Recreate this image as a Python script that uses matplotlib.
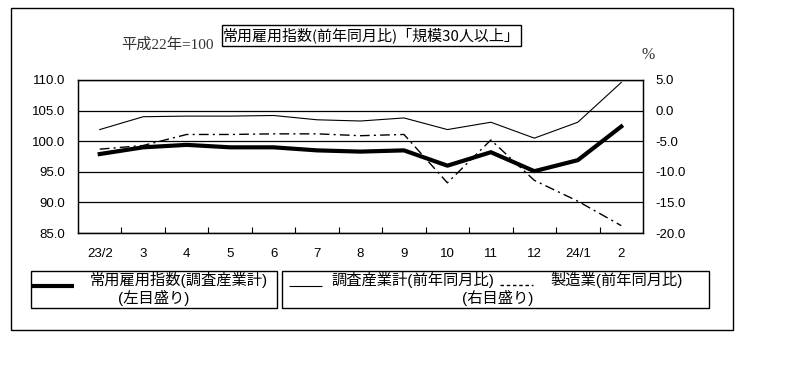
import matplotlib
matplotlib.use('Agg')
import matplotlib.pyplot as plt
from matplotlib.patches import Rectangle
from matplotlib.lines import Line2D
from matplotlib.ticker import FormatStrFormatter

plt.rcParams['font.family'] = ['Liberation Sans', 'Noto Sans CJK JP']

# データ
months = ['23/2', '3', '4', '5', '6', '7', '8', '9', '10', '11', '12', '24/1', '2']
index_all = [97.9, 99.0, 99.4, 99.0, 99.0, 98.5, 98.3, 98.5, 96.0, 98.2, 95.1, 96.9, 102.4]   # 左目盛り
yoy_all = [-3.1, -1.0, -0.9, -0.9, -0.8, -1.5, -1.7, -1.2, -3.1, -1.9, -4.5, -1.9, 4.6]      # 右目盛り
yoy_mfg = [-6.3, -5.7, -3.9, -3.9, -3.8, -3.8, -4.1, -3.9, -11.8, -4.8, -11.4, -14.8, -18.8]  # 右目盛り
left_ticks = [85.0, 90.0, 95.0, 100.0, 105.0, 110.0]
right_ticks = [-20.0, -15.0, -10.0, -5.0, 0.0, 5.0]

W, H = 805, 366
fig = plt.figure(figsize=(W / 100, H / 100), dpi=100)


def fx(x):
    return x / W


def fy(y):
    return 1 - y / H


def box(x0, y0, x1, y1, lw=1.0):
    fig.patches.append(Rectangle((fx(x0), fy(y1)), fx(x1 - x0), (y1 - y0) / H,
                                 transform=fig.transFigure, fill=False,
                                 ec='black', lw=lw))


# 外枠
box(11, 8, 733, 330)

ax = fig.add_axes([fx(78), fy(233), fx(565), 153 / H])
x = list(range(len(months)))
ax.plot(x, index_all, color='black', lw=3.0, solid_joinstyle='round', zorder=5)
ax.set_xlim(-0.5, len(months) - 0.5)
ax.set_ylim(85, 110)
ax.set_yticks(left_ticks)
ax.yaxis.set_major_formatter(FormatStrFormatter('%.1f'))
ax.grid(axis='y', color='black', lw=0.9)
ax.set_xticks(x)
ax.set_xticklabels(months)
ax.set_xticks([i + 0.5 for i in range(len(months) - 1)], minor=True)
ax.tick_params(axis='x', which='major', length=0, pad=11, labelsize=9.5)
ax.tick_params(axis='x', which='minor', direction='in', length=4, width=0.8)
ax.tick_params(axis='y', length=0, pad=9, labelsize=9.5)
for s in ax.spines.values():
    s.set_linewidth(0.9)

ax2 = ax.twinx()
ax2.plot(x, yoy_all, color='black', lw=0.8)
ax2.plot(x, yoy_mfg, color='black', lw=1.0, dashes=(7, 3, 1.5, 3))
ax2.set_ylim(-20, 5)
ax2.set_yticks(right_ticks)
ax2.yaxis.set_major_formatter(FormatStrFormatter('%.1f'))
ax2.tick_params(axis='y', length=0, pad=9, labelsize=9.5)
for s in ax2.spines.values():
    s.set_linewidth(0.9)

# タイトル
box(222, 25, 521, 46)
fig.text(fx(371.5), fy(35.5), '常用雇用指数(前年同月比)「規模30人以上」',
         ha='center', va='center', fontsize=10.8, family=['Noto Sans CJK JP'])
fig.text(fx(167), fy(45), '平成22年=100', ha='center', va='center', fontsize=11,
         family=['Liberation Serif', 'Noto Sans CJK JP'], color='#333333')
fig.text(fx(648), fy(55), '%', ha='center', va='center', fontsize=11.5,
         family=['Liberation Serif'], color='#333333')

# 凡例
box(31, 271, 277, 308)
box(282, 271, 709, 308)
fig.add_artist(Line2D([fx(31), fx(74)], [fy(286), fy(286)], color='black', lw=3.0,
                      solid_capstyle='butt', transform=fig.transFigure))
fig.add_artist(Line2D([fx(289), fx(322)], [fy(286), fy(286)], color='black', lw=0.8,
                      solid_capstyle='butt', transform=fig.transFigure))
fig.add_artist(Line2D([fx(500), fx(533)], [fy(285), fy(285)], color='black', lw=1.0,
                      dashes=(2.5, 2), transform=fig.transFigure))
fs = 11
fig.text(fx(179), fy(280), '常用雇用指数(調査産業計)', ha='center', va='center', fontsize=fs)
fig.text(fx(154), fy(298), '(左目盛り)', ha='center', va='center', fontsize=fs)
fig.text(fx(331), fy(280), '調査産業計(前年同月比)', ha='left', va='center', fontsize=fs)
fig.text(fx(617), fy(280), '製造業(前年同月比)', ha='center', va='center', fontsize=fs)
fig.text(fx(498), fy(298), '(右目盛り)', ha='center', va='center', fontsize=fs)

fig.savefig('out.png', dpi=100)
